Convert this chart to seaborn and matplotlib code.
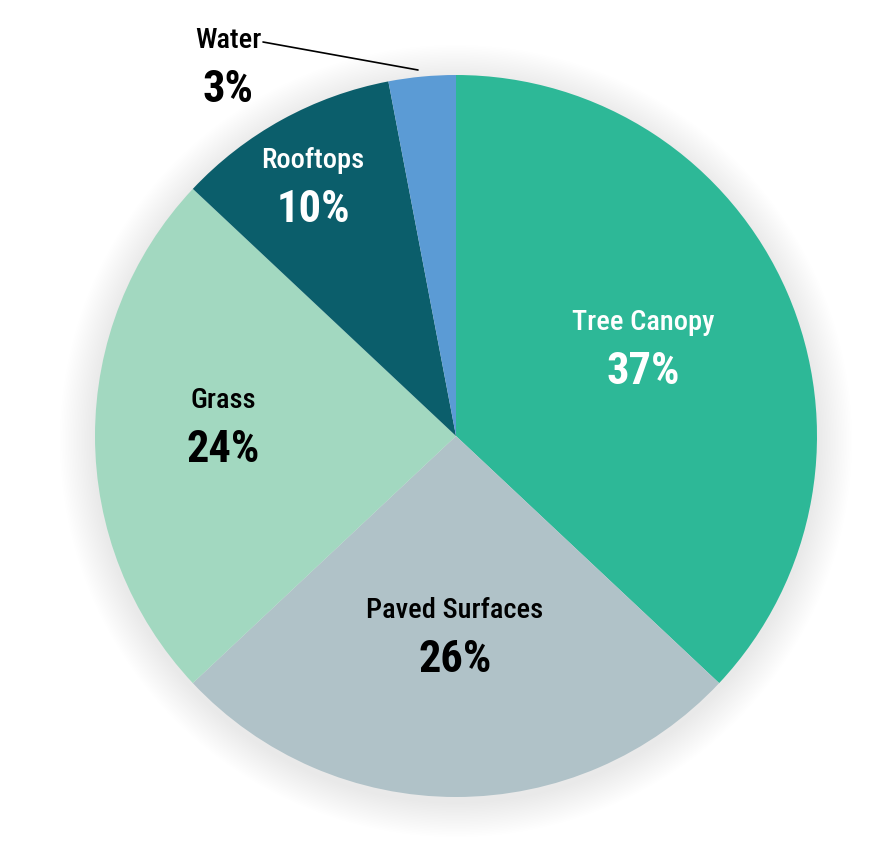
import matplotlib.pyplot as plt
import matplotlib.patches as mpatches
from matplotlib import font_manager
import seaborn as sns

# Land cover shares
categories = ['Tree Canopy', 'Paved Surfaces', 'Grass', 'Rooftops', 'Water']
shares = [37, 26, 24, 10, 3]
colors = ['#2db897', '#b0c2c8', '#a2d8c0', '#0b5e6b', '#5b9bd5']
name_colors = ['white', 'black', 'black', 'white', 'black']

sns.set_theme(style='white')
names = {f.name for f in font_manager.fontManager.ttflist}
cond = [n for n in ('Roboto Condensed', 'Open Sans Condensed', 'DejaVu Sans Condensed',
                    'Liberation Sans Narrow') if n in names]
plt.rcParams['font.family'] = cond + ['DejaVu Sans']

W, H = 889, 865
fig = plt.figure(figsize=(W / 100, H / 100), dpi=100)
ax = fig.add_axes([0, 0, 1, 1])

cx, cy, r = 456, H - 436, 361

# soft shadow round the pie
for k in range(22, 0, -1):
    ax.add_patch(mpatches.Circle((cx, cy - 5), r + k * 1.6, color='black',
                                 alpha=0.005, lw=0, zorder=0))

wedges, _ = ax.pie(shares, colors=colors, startangle=90, counterclock=False,
                   center=(cx, cy), radius=r, frame=True,
                   wedgeprops=dict(linewidth=0))
ax.set_xlim(0, W)
ax.set_ylim(0, H)
ax.axis('off')

# label positions in pixels (x, y of the name line)
label_pos = {
    'Tree Canopy': (643, 322),
    'Paved Surfaces': (455, 610),
    'Grass': (223, 400),
    'Rooftops': (313, 160),
    'Water': (228, 40),
}
for name, val, c in zip(categories, shares, name_colors):
    x, y = label_pos[name]
    ax.text(x, H - y, name, ha='center', va='center', fontsize=20.5,
            color=c, fontweight='medium', fontstretch='condensed')
    ax.text(x, H - y - 50, f'{val}%', ha='center', va='center', fontsize=32,
            color=c, fontweight='heavy', fontstretch='condensed')

# leader line for Water
ax.plot([263, 418], [H - 42, H - 70], color='black', lw=1.2)

fig.savefig('out.png', dpi=100)
